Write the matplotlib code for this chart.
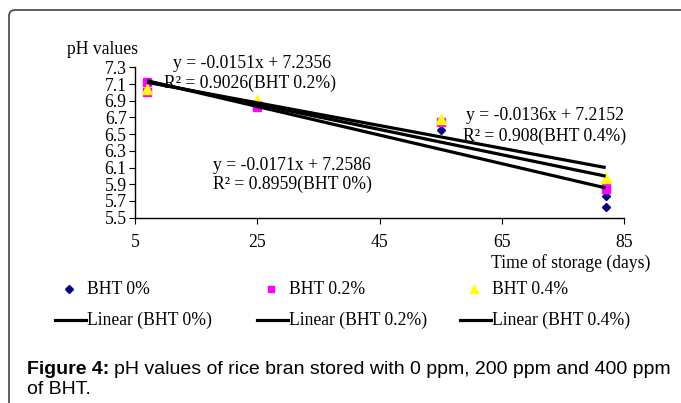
import matplotlib
matplotlib.use("Agg")
import matplotlib.pyplot as plt
from matplotlib.lines import Line2D
from matplotlib.patches import FancyBboxPatch

# storage time (days) and pH readings
days_0 = [7, 25, 55, 82, 82]
ph_0 = [7.10, 6.85, 6.55, 5.76, 5.63]
days_2 = [7, 7, 25, 25, 55, 82, 82]
ph_2 = [7.12, 7.01, 6.85, 6.82, 6.65, 5.89, 5.84]
days_4 = [7, 25, 55, 82]
ph_4 = [7.04, 6.91, 6.68, 5.97]

# linear trendlines (slope, intercept) as printed on the chart
slopes = [-0.0171, -0.0151, -0.0136]
intercepts = [7.2586, 7.2356, 7.2152]
r2 = ["0.8959", "0.9026", "0.908"]
trend_x = [7, 82]

series_labels = ["BHT 0%", "BHT 0.2%", "BHT 0.4%"]
trend_labels = ["Linear (BHT 0%)", "Linear (BHT 0.2%)", "Linear (BHT 0.4%)"]
colors = ["#000080", "#ff00ff", "#ffff00"]
markers = ["D", "s", "^"]
msizes = [4.5, 6, 6.5]

serif = "Liberation Serif"
sans = "Liberation Sans"
FS = 12.7

W, H = 681, 403
fig = plt.figure(figsize=(W / 100, H / 100), dpi=100)
ax = fig.add_axes([135 / W, 1 - 217.7 / H, (624 - 135) / W, (217.7 - 67.3) / H])

for (x, y), c, m, ms in zip([(days_0, ph_0), (days_2, ph_2), (days_4, ph_4)], colors, markers, msizes):
    ax.plot(x, y, ls="none", marker=m, color=c, ms=ms, mec=c, zorder=3)
for k, b in zip(slopes, intercepts):
    ax.plot(trend_x, [k * t + b for t in trend_x], color="black", lw=2.3, zorder=4, solid_capstyle="butt")

ax.set_xlim(5, 85)
ax.set_ylim(5.5, 7.3)
ax.set_xticks([5, 25, 45, 65, 85])
ax.set_yticks([5.5 + 0.2 * i for i in range(10)])
ax.set_yticklabels([f"{5.5 + 0.2 * i:.1f}" for i in range(10)])
for s in ["top", "right"]:
    ax.spines[s].set_visible(False)
for s in ["left", "bottom"]:
    ax.spines[s].set_linewidth(1.0)
ax.tick_params(axis="x", direction="out", length=4, pad=8, labelsize=FS)
ax.tick_params(axis="y", direction="out", length=4, pad=2, labelsize=FS)
for lab in ax.get_xticklabels() + ax.get_yticklabels():
    lab.set_fontfamily(serif)

def ftext(x, y, s, **kw):
    d = dict(fontfamily=serif, fontsize=FS)
    d.update(kw)
    return fig.text(x / W, 1 - y / H, s, **d)

def eq(i):
    return f"y = {slopes[i]:.4f}x + {intercepts[i]:.4f}"

ftext(67, 49, "pH values", va="center")
ftext(491, 263, "Time of storage (days)", va="center")

ftext(252, 63, eq(1), ha="center", va="center")
ftext(250, 83, f"R² = {r2[1]}(BHT 0.2%)", ha="center", va="center")
ftext(213, 165, eq(0), va="center")
ftext(213, 184, f"R² = {r2[0]}(BHT 0%)", va="center")
ftext(466, 116, eq(2), va="center")
ftext(463, 136, f"R² = {r2[2]}(BHT 0.4%)", va="center")

# legend below the plot
col_x = [55, 257, 460]
for i in range(3):
    fig.add_artist(Line2D([(col_x[i] + 14) / W], [1 - 289 / H], marker=markers[i], color=colors[i],
                          ms=msizes[i] * 0.8, ls="none", transform=fig.transFigure))
    ftext(col_x[i] + 32, 289, series_labels[i], va="center")
    fig.add_artist(Line2D([col_x[i] / W, (col_x[i] + 31) / W], [1 - 320 / H] * 2, color="black",
                          lw=2.3, transform=fig.transFigure))
    ftext(col_x[i] + 32, 320, trend_labels[i], va="center")

# frame with rounded top-left corner
frame = FancyBboxPatch((0.09, -0.5), 7.5, 4.43, boxstyle="round,pad=0,rounding_size=0.06",
                       transform=fig.dpi_scale_trans, fill=False, ec="#505050", lw=1.3)
fig.add_artist(frame)

# caption
t1 = fig.text(27 / W, 1 - 370 / H, "Figure 4:", fontfamily=sans, fontsize=14, fontweight="bold", va="center")
fig.canvas.draw()
bb = t1.get_window_extent()
fig.text((bb.x1 + 5) / W, 1 - 370 / H, "pH values of rice bran stored with 0 ppm, 200 ppm and 400 ppm",
         fontfamily=sans, fontsize=14, va="center")
fig.text(27 / W, 1 - 389 / H, "of BHT.", fontfamily=sans, fontsize=14, va="center")

fig.savefig("out.png", dpi=100)
